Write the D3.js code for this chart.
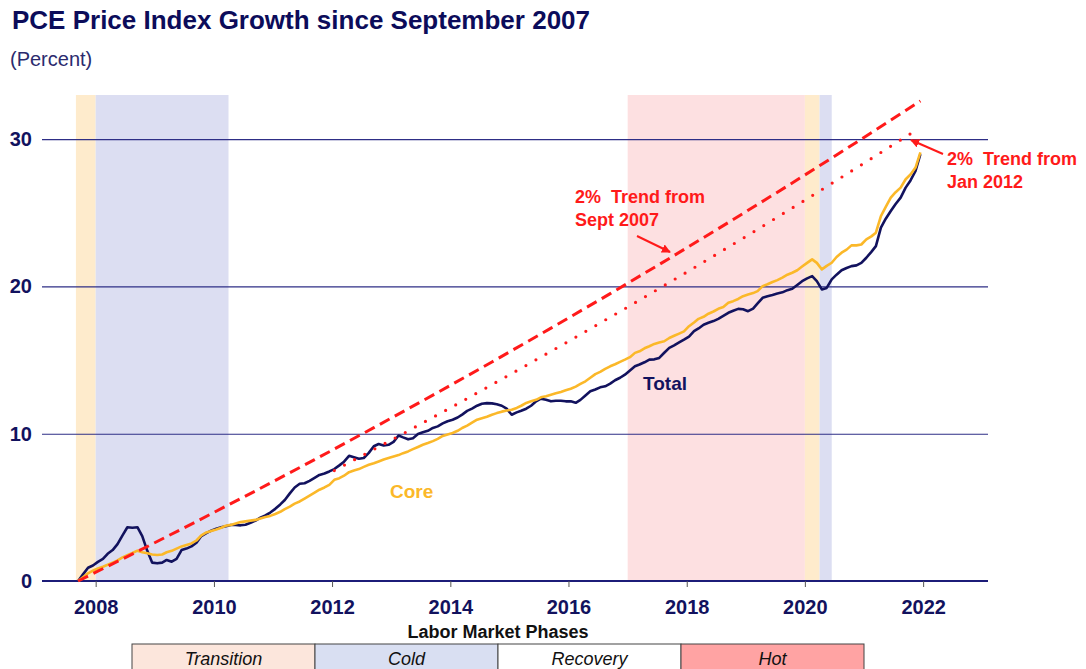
<!DOCTYPE html>
<html>
<head>
<meta charset="utf-8">
<script src="https://cdn.jsdelivr.net/npm/d3@7"></script>
<style>
	body { margin: 0; background: #fff; }
	text { font-family: "Liberation Sans", Arial, sans-serif; }
</style>
</head>
<body>
<div id="chart"></div>
<script>
// monthly cumulative growth since Sept 2007, percent
const firstMonth = "2007-09-15";
const totalPct = [
	0, 0.45, 0.9, 1.05,
	1.3, 1.5, 1.85, 2.1, 2.5, 3.1, 3.65, 3.62, 3.65, 3.05, 2.05, 1.25,
	1.2, 1.25, 1.43, 1.31, 1.5, 2.1, 2.2, 2.35, 2.6, 3.05, 3.25, 3.42,
	3.55, 3.65, 3.72, 3.8, 3.8, 3.78, 3.82, 3.95, 4.1, 4.3, 4.45, 4.65,
	4.9, 5.2, 5.5, 5.95, 6.35, 6.6, 6.64, 6.8, 7.0, 7.2, 7.3, 7.44,
	7.6, 7.85, 8.1, 8.5, 8.4, 8.3, 8.35, 8.7, 9.15, 9.3, 9.2, 9.25,
	9.45, 9.88, 9.75, 9.62, 9.7, 9.98, 10.1, 10.2, 10.39, 10.5, 10.7, 10.85,
	10.95, 11.1, 11.3, 11.55, 11.7, 11.9, 12.04, 12.08, 12.06, 12.0, 11.9, 11.7,
	11.29, 11.45, 11.56, 11.7, 11.9, 12.2, 12.38, 12.3, 12.2, 12.24, 12.24, 12.2,
	12.2, 12.1, 12.3, 12.6, 12.88, 13.0, 13.15, 13.22, 13.4, 13.63, 13.8, 14.01,
	14.3, 14.58, 14.7, 14.85, 15.03, 15.05, 15.15, 15.5, 15.83, 16.0, 16.2, 16.39,
	16.6, 16.96, 17.15, 17.4, 17.53, 17.65, 17.8, 18.0, 18.21, 18.35, 18.48, 18.45,
	18.32, 18.5, 18.85, 19.23, 19.33, 19.42, 19.52, 19.6, 19.75, 19.84, 20.1, 20.36,
	20.55, 20.7, 20.36, 19.8, 19.9, 20.48, 20.8, 21.1, 21.25, 21.38, 21.43, 21.6,
	21.95, 22.35, 22.74, 23.99, 24.6, 25.12, 25.6, 26.03, 26.71, 27.2, 27.84, 28.98
];
const corePct = [
	0, 0.25, 0.52, 0.7,
	0.85, 0.97, 1.1, 1.25, 1.4, 1.6, 1.75, 1.9, 2.06, 1.95, 1.88, 1.8,
	1.77, 1.8, 1.95, 2.05, 2.2, 2.35, 2.45, 2.55, 2.75, 3.1, 3.3, 3.4,
	3.5, 3.62, 3.75, 3.81, 3.9, 4.0, 4.05, 4.1, 4.15, 4.25, 4.35, 4.42,
	4.55, 4.7, 4.88, 5.05, 5.25, 5.4, 5.6, 5.8, 6.0, 6.2, 6.35, 6.53,
	6.87, 6.98, 7.15, 7.39, 7.5, 7.6, 7.75, 7.89, 8.0, 8.12, 8.25, 8.35,
	8.45, 8.55, 8.68, 8.8, 8.95, 9.1, 9.25, 9.37, 9.5, 9.65, 9.85, 9.95,
	10.05, 10.2, 10.39, 10.55, 10.75, 10.95, 11.05, 11.15, 11.29, 11.4, 11.5, 11.58,
	11.63, 11.75, 11.9, 12.09, 12.2, 12.3, 12.47, 12.55, 12.65, 12.75, 12.84, 12.95,
	13.05, 13.2, 13.38, 13.56, 13.8, 14.05, 14.2, 14.4, 14.58, 14.72, 14.88, 15.03,
	15.2, 15.49, 15.6, 15.8, 15.94, 16.1, 16.2, 16.28, 16.5, 16.65, 16.8, 16.95,
	17.3, 17.55, 17.8, 17.94, 18.15, 18.3, 18.48, 18.6, 18.89, 19.0, 19.15, 19.34,
	19.45, 19.55, 19.68, 20.02, 20.15, 20.3, 20.43, 20.6, 20.8, 20.93, 21.1, 21.35,
	21.6, 21.84, 21.6, 21.16, 21.4, 21.61, 22.0, 22.29, 22.5, 22.79, 22.79, 22.85,
	23.2, 23.4, 23.65, 24.78, 25.4, 26.03, 26.4, 26.71, 27.28, 27.6, 28.07, 29.1
];

// 2% trend lines
const trendSept07Dates = ["2007-09-15", "2008-09-15", "2009-09-15", "2010-09-15", "2011-09-15", "2012-09-15", "2013-09-15", "2014-09-15", "2015-09-15", "2016-09-15", "2017-09-15", "2018-09-15", "2019-09-15", "2020-09-15", "2021-09-15", "2021-12-15"];
const trendSept07Values = [0, 2, 4.04, 6.12, 8.24, 10.41, 12.62, 14.87, 17.17, 19.51, 21.9, 24.34, 26.82, 29.36, 31.95, 32.6];
const trendJan12Dates = ["2012-01-15", "2013-01-15", "2014-01-15", "2015-01-15", "2016-01-15", "2017-01-15", "2018-01-15", "2019-01-15", "2020-01-15", "2021-01-15", "2021-12-01"];
const trendJan12Values = [7.5, 9.65, 11.84, 14.08, 16.36, 18.69, 21.06, 23.48, 25.95, 28.47, 30.7];

// labor market phase shading
const bandStarts = ["2007-09-01", "2008-01-01", "2017-01-01", "2020-01-01", "2020-04-01"];
const bandEnds = ["2008-01-01", "2010-04-01", "2020-01-01", "2020-04-01", "2020-06-15"];
const bandPhases = ["Transition", "Cold", "Hot", "Transition", "Cold"];

const phaseNames = ["Transition", "Cold", "Recovery", "Hot"];
const yTicks = [0, 10, 20, 30];
const xTickYears = [2008, 2010, 2012, 2014, 2016, 2018, 2020, 2022];

const bandColors = { Transition: "#feebcc", Cold: "#dcdef2", Hot: "#fde0e1" };
const legendColors = { Transition: "#fce6dc", Cold: "#d9dff2", Recovery: "#ffffff", Hot: "#ffa3a3" };
const navy = "#12125e";
const coreColor = "#fbb829";
const red = "#ff1a1a";

const width = 1086;
const height = 669;
const plotLeft = 42;
const plotRight = 988;
const plotTop = 95;
const plotBottom = 581;

const parseDay = d3.timeParse("%Y-%m-%d");

const x = d3
	.scaleTime()
	.domain([new Date(2007, 0, 1), new Date(2023, 0, 1)])
	.range([36.6, 982.2]);
const y = d3.scaleLinear().domain([0, 33]).range([plotBottom, plotTop]);

const svg = d3.select("#chart").append("svg").attr("width", width).attr("height", height);

const defs = svg.append("defs");
defs.append("marker")
	.attr("id", "arrow")
	.attr("viewBox", "0 0 10 10")
	.attr("refX", 9)
	.attr("refY", 5)
	.attr("markerWidth", 9)
	.attr("markerHeight", 9)
	.attr("markerUnits", "userSpaceOnUse")
	.attr("orient", "auto")
	.append("path")
	.attr("d", "M0,0 L10,5 L0,10 Z")
	.attr("fill", red);

// title
svg.append("text")
	.attr("x", 12)
	.attr("y", 29)
	.attr("font-size", "26px")
	.attr("font-weight", "bold")
	.attr("fill", "#0c0c5a")
	.text("PCE Price Index Growth since September 2007");
svg.append("text")
	.attr("x", 10)
	.attr("y", 66)
	.attr("font-size", "20px")
	.attr("fill", "#2b2b6e")
	.text("(Percent)");

// shading
svg.append("g")
	.selectAll("rect")
	.data(bandStarts)
	.enter()
	.append("rect")
	.attr("x", (d) => x(parseDay(d)))
	.attr("width", (d, i) => x(parseDay(bandEnds[i])) - x(parseDay(d)))
	.attr("y", plotTop)
	.attr("height", plotBottom - plotTop)
	.attr("fill", (_d, i) => bandColors[bandPhases[i]]);

// y gridlines + labels
const yAxis = svg
	.append("g")
	.attr("transform", `translate(${plotLeft},0)`)
	.call(d3.axisLeft(y).tickValues(yTicks).tickSize(-(plotRight - plotLeft)).tickPadding(10));
yAxis.select(".domain").remove();
yAxis.selectAll("line").attr("stroke", "#2e2e86").attr("stroke-width", 1.2);
yAxis.selectAll("text")
	.attr("font-size", "20px")
	.attr("font-weight", "bold")
	.attr("fill", navy)
	.style("font-family", "'Liberation Sans', Arial, sans-serif");

// x axis
svg.append("line")
	.attr("x1", plotLeft)
	.attr("x2", plotRight)
	.attr("y1", plotBottom)
	.attr("y2", plotBottom)
	.attr("stroke", "#1c1c78")
	.attr("stroke-width", 2);
const xAxis = svg
	.append("g")
	.attr("transform", `translate(0,${plotBottom})`)
	.call(
		d3
			.axisBottom(x)
			.tickValues(xTickYears.map((yr) => new Date(yr, 0, 1)))
			.tickFormat(d3.timeFormat("%Y"))
			.tickSize(6)
	);
xAxis.select(".domain").remove();
xAxis.selectAll("line").attr("stroke", "#555").attr("stroke-width", 1);
xAxis.selectAll("text")
	.attr("y", 19)
	.attr("font-size", "20px")
	.attr("font-weight", "bold")
	.attr("fill", navy)
	.style("font-family", "'Liberation Sans', Arial, sans-serif");

// series
const monthDates = totalPct.map((_d, i) => d3.timeMonth.offset(parseDay(firstMonth), i));
const line = d3
	.line()
	.x((d) => x(d[0]))
	.y((d) => y(d[1]));

svg.append("path")
	.datum(totalPct.map((v, i) => [monthDates[i], v]))
	.attr("d", line)
	.attr("fill", "none")
	.attr("stroke", navy)
	.attr("stroke-width", 2.6)
	.attr("stroke-linejoin", "round");
svg.append("path")
	.datum(corePct.map((v, i) => [monthDates[i], v]))
	.attr("d", line)
	.attr("fill", "none")
	.attr("stroke", coreColor)
	.attr("stroke-width", 2.6)
	.attr("stroke-linejoin", "round");

// trends
svg.append("path")
	.datum(trendSept07Dates.map((d, i) => [parseDay(d), trendSept07Values[i]]))
	.attr("d", line)
	.attr("fill", "none")
	.attr("stroke", red)
	.attr("stroke-width", 3)
	.attr("stroke-dasharray", "11,6");
svg.append("path")
	.datum(trendJan12Dates.map((d, i) => [parseDay(d), trendJan12Values[i]]))
	.attr("d", line)
	.attr("fill", "none")
	.attr("stroke", red)
	.attr("stroke-width", 3.2)
	.attr("stroke-linecap", "round")
	.attr("stroke-dasharray", "0,11.5");

// labels
function addLabel(lines, px, py, color, size) {
	const t = svg
		.append("text")
		.attr("x", px)
		.attr("y", py)
		.attr("font-size", size)
		.attr("font-weight", "bold")
		.attr("fill", color);
	lines.forEach((l, i) => {
		t.append("tspan")
			.attr("x", px)
			.attr("dy", i === 0 ? 0 : "1.3em")
			.style("white-space", "pre")
			.text(l);
	});
}
addLabel(["2%  Trend from", "Sept 2007"], 575, 203, red, "18px");
addLabel(["2%  Trend from", "Jan 2012"], 947, 165, red, "18px");
addLabel(["Total"], 643, 390, navy, "19px");
addLabel(["Core"], 390, 498, coreColor, "19px");

svg.append("line")
	.attr("x1", 637)
	.attr("y1", 236)
	.attr("x2", 670)
	.attr("y2", 252)
	.attr("stroke", red)
	.attr("stroke-width", 2)
	.attr("marker-end", "url(#arrow)");
svg.append("line")
	.attr("x1", 943)
	.attr("y1", 154)
	.attr("x2", 911)
	.attr("y2", 140)
	.attr("stroke", red)
	.attr("stroke-width", 2)
	.attr("marker-end", "url(#arrow)");

// phase legend
const cellW = 183;
const legendLeft = 132;
svg.append("text")
	.attr("x", legendLeft + cellW * 2)
	.attr("y", 638)
	.attr("text-anchor", "middle")
	.attr("font-size", "18px")
	.attr("font-weight", "bold")
	.attr("fill", "#111")
	.text("Labor Market Phases");
const cells = svg
	.append("g")
	.selectAll("g")
	.data(phaseNames)
	.enter()
	.append("g")
	.attr("transform", (_d, i) => `translate(${legendLeft + i * cellW},644)`);
cells.append("rect")
	.attr("width", cellW)
	.attr("height", 32)
	.attr("fill", (d) => legendColors[d])
	.attr("stroke", "#444")
	.attr("stroke-width", 1);
cells.append("text")
	.attr("x", cellW / 2)
	.attr("y", 21)
	.attr("text-anchor", "middle")
	.attr("font-size", "18px")
	.attr("font-style", "italic")
	.attr("fill", "#111")
	.text((d) => d);
</script>
</body>
</html>
